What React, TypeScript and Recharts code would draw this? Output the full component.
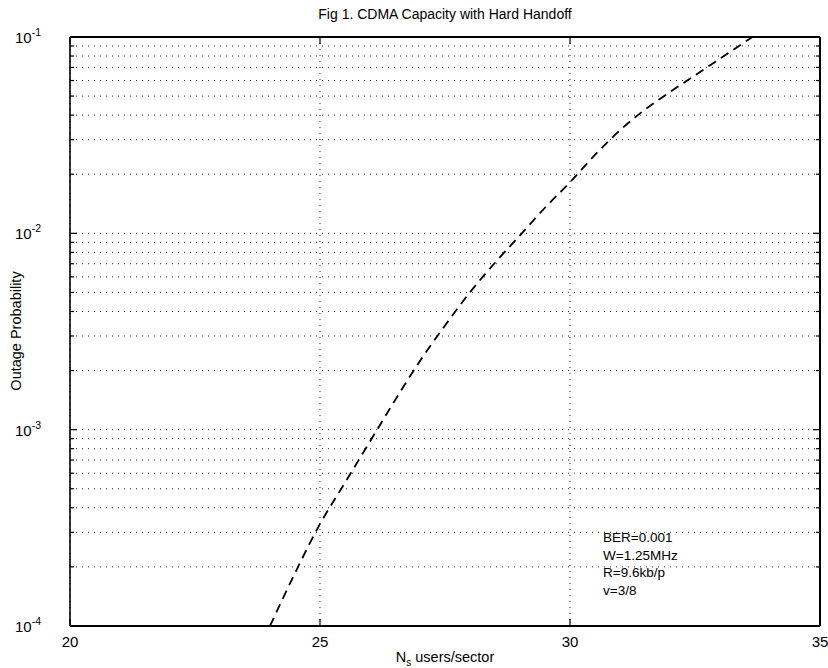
import React from "react";
import { CartesianGrid, Customized, Line, LineChart, ReferenceLine, XAxis, YAxis } from "recharts";

// users per sector vs. outage probability
const users = [24, 24.5, 25, 25.5, 26, 26.5, 27, 27.5, 28, 28.5, 29, 29.5, 30, 30.5, 31, 31.5, 32, 32.5, 33, 33.5, 33.65];
const outage = [
  1.0e-4, 1.86e-4, 3.31e-4, 5.37e-4, 8.71e-4, 1.41e-3, 2.24e-3, 3.39e-3, 5.01e-3, 7.08e-3, 9.77e-3,
  1.35e-2, 1.82e-2, 2.51e-2, 3.35e-2, 4.27e-2, 5.25e-2, 6.38e-2, 7.76e-2, 9.44e-2, 1.0e-1,
];

const xTicks = [20, 25, 30, 35];
const yDecades = [1e-4, 1e-3, 1e-2, 1e-1];
const yMinorSteps = [2, 3, 4, 5, 6, 7, 8, 9];
const notes = ["BER=0.001", "W=1.25MHz", "R=9.6kb/p", "v=3/8"];

const X_DOMAIN: [number, number] = [20, 35];
const Y_DOMAIN: [number, number] = [1e-4, 1e-1];

const data = users.map((u, i) => ({ users: u, outage: outage[i] }));
const yMinors = yDecades.slice(0, -1).flatMap((d) => yMinorSteps.map((m) => +(d * m).toPrecision(3)));
const yTicks = [...yDecades, ...yMinors].sort((a, b) => a - b);

const W = 828;
const H = 668;
const PL = 70;
const PT = 37;
const PR = 820;
const PB = 626;
const FONT = "'Liberation Sans', Arial, Helvetica, sans-serif";

// tick lengths (px) turned into data units so the marks go through the chart's scales
const pxToX = (px: number) => (px * (X_DOMAIN[1] - X_DOMAIN[0])) / (PR - PL);
const pxToLogFactor = (px: number) => Math.pow(10, (px * 3) / (PB - PT));

const isDecade = (v: number) => Math.abs(Math.log10(v) - Math.round(Math.log10(v))) < 1e-6;

function LeftTick(props: any) {
  const { y, payload } = props;
  if (!isDecade(payload.value)) return <g />;
  return (
    <text x={41} y={y + 6} textAnchor="end" fontSize={15} fill="#000" fontFamily={FONT}>
      10
      <tspan dy={-7} fontSize={10.5}>
        {Math.round(Math.log10(payload.value))}
      </tspan>
    </text>
  );
}

function BottomTick(props: any) {
  const { x, payload } = props;
  return (
    <text x={x} y={PB + 21} textAnchor="middle" fontSize={15} fill="#000" fontFamily={FONT}>
      {payload.value}
    </text>
  );
}

function Texts() {
  return (
    <g fontFamily={FONT} fill="#000">
      <text x={(PL + PR) / 2} y={19} textAnchor="middle" fontSize={14}>
        Fig 1. CDMA Capacity with Hard Handoff
      </text>
      <text x={(PL + PR) / 2} y={662} textAnchor="middle" fontSize={14.5}>
        N<tspan dy={4} fontSize={10}>s</tspan>
        <tspan dy={-4}> users/sector</tspan>
      </text>
      <text x={21} y={331} textAnchor="middle" fontSize={14.5} transform="rotate(-90 21 331)">
        Outage Probability
      </text>
      {notes.map((n, i) => (
        <text key={n} x={603} y={542 + i * 17.5} fontSize={13.5}>
          {n}
        </text>
      ))}
    </g>
  );
}

const tickStyle = { stroke: "#000", strokeWidth: 1.2 };

export default function App() {
  const yTickMarks = yTicks.map((v) => {
    const dx = pxToX(isDecade(v) ? 7 : 4);
    return [
      <ReferenceLine key={`l${v}`} segment={[{ x: X_DOMAIN[0], y: v }, { x: X_DOMAIN[0] + dx, y: v }]} {...tickStyle} />,
      <ReferenceLine key={`r${v}`} segment={[{ x: X_DOMAIN[1] - dx, y: v }, { x: X_DOMAIN[1], y: v }]} {...tickStyle} />,
    ];
  });
  const f = pxToLogFactor(7);
  const xTickMarks = xTicks.map((t) => [
    <ReferenceLine key={`b${t}`} segment={[{ x: t, y: Y_DOMAIN[0] }, { x: t, y: Y_DOMAIN[0] * f }]} {...tickStyle} />,
    <ReferenceLine key={`t${t}`} segment={[{ x: t, y: Y_DOMAIN[1] / f }, { x: t, y: Y_DOMAIN[1] }]} {...tickStyle} />,
  ]);

  return (
    <div style={{ position: "absolute", left: 0, top: 0, background: "#fff" }}>
      <LineChart width={W} height={H} data={data} margin={{ top: PT, right: W - PR, bottom: 0, left: 0 }}>
        <CartesianGrid stroke="#222" strokeDasharray="1 5" strokeWidth={1} />
        <XAxis
          dataKey="users"
          type="number"
          domain={X_DOMAIN}
          ticks={xTicks}
          height={H - PB}
          axisLine={false}
          tickLine={false}
          tick={<BottomTick />}
          interval={0}
        />
        <YAxis
          scale="log"
          domain={Y_DOMAIN}
          ticks={yTicks}
          allowDataOverflow
          width={PL}
          axisLine={false}
          tickLine={false}
          tick={<LeftTick />}
          interval={0}
        />
        {yTickMarks}
        {xTickMarks}
        <ReferenceLine x={X_DOMAIN[0]} stroke="#000" strokeWidth={1.6} />
        <ReferenceLine x={X_DOMAIN[1]} stroke="#000" strokeWidth={2} />
        <ReferenceLine y={Y_DOMAIN[0]} stroke="#000" strokeWidth={2} />
        <ReferenceLine y={Y_DOMAIN[1]} stroke="#000" strokeWidth={2} />
        <Line
          type="monotone"
          dataKey="outage"
          stroke="#000"
          strokeWidth={1.8}
          strokeDasharray="9 6"
          dot={false}
          isAnimationActive={false}
        />
        <Customized component={Texts} />
      </LineChart>
    </div>
  );
}
